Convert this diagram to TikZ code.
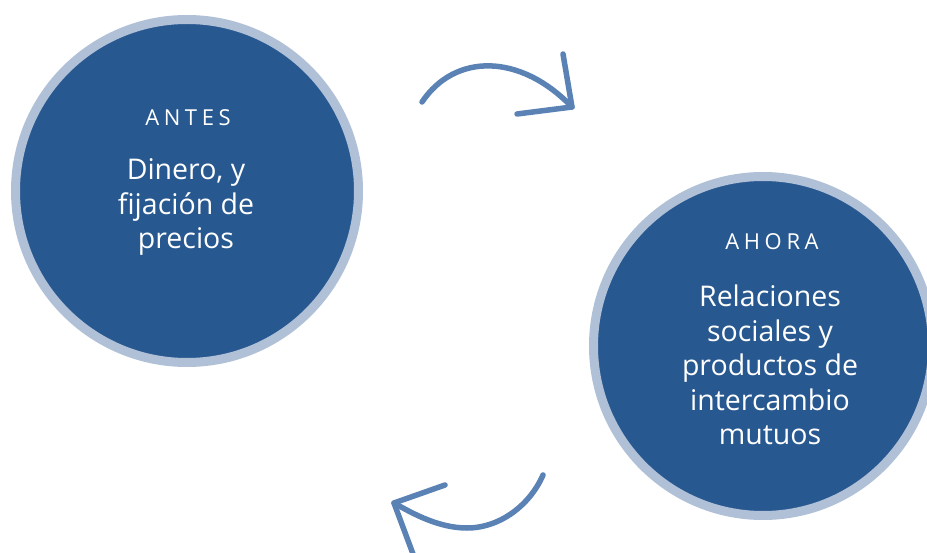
\documentclass[tikz,border=0pt]{standalone}
\usepackage{fontspec}
\setmainfont{Open Sans}
\newfontfamily\espaciada[LetterSpace=21]{Open Sans}
\definecolor{azul}{RGB}{40,88,144}
\definecolor{anillo}{RGB}{176,193,215}
\definecolor{flechaazul}{RGB}{90,130,180}
\tikzset{ciclo/.style={circle,fill=azul,draw=anillo,line width=9pt,inner sep=0pt},
titulo/.style={text=white,font=\espaciada\fontsize{22}{22}\selectfont},
texto/.style={text=white,align=center,inner sep=0pt,font=\fontsize{28.5}{34.5}\selectfont},
flecha/.style={draw=flechaazul,line width=5.5pt,line cap=round,line join=round}}
\begin{document}
\begin{tikzpicture}[x=1pt,y=-1pt]
\clip (0,0) rectangle (927,553);
\fill[white] (0,0) rectangle (927,553);
% circulos
\node[ciclo,minimum size=343pt] (antes) at (187,191) {};
\node[ciclo,minimum size=339pt] (ahora) at (763,346) {};
\node[titulo,anchor=base] (tantes) at (188,126) {ANTES};
\node[titulo,anchor=base] (tahora) at (772,250) {AHORA};
\node[texto] (dantes) at (186,207) {Dinero, y\\fijación de\\precios};
\node[texto] (dahora) at (770,365) {Relaciones\\sociales y\\productos de\\intercambio\\mutuos};
% flechas
\coordinate (a1) at (422,102);
\coordinate (p1) at (572,107);
\coordinate (a2) at (543,475);
\coordinate (p2) at (394,503);
\path[flecha] (a1) .. controls (455,53) and (520,53) .. (p1);
\path[flecha] (p1)--(563,54) (p1)--(517,114);
\path[flecha] (a2) .. controls (530,505) and (500,528) .. (467,528) .. controls (440,528) and (415,515) .. (p2);
\path[flecha] (p2)--(445,485) (p2)--(416,562);
\end{tikzpicture}
\end{document}
